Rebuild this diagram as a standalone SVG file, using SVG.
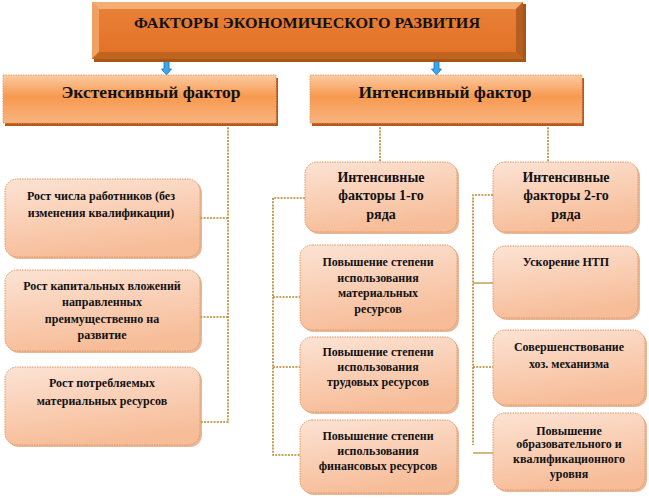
<svg xmlns="http://www.w3.org/2000/svg" width="649" height="498" viewBox="0 0 649 498" font-family="'Liberation Serif', 'DejaVu Serif', 'Times New Roman', serif">
<defs>
<linearGradient id="gMain" x1="0" y1="0" x2="0" y2="1">
<stop offset="0" stop-color="#FBCBA2"/>
<stop offset="0.45" stop-color="#F7994F"/>
<stop offset="1" stop-color="#F9B47F"/>
</linearGradient>
<linearGradient id="gBox" x1="0" y1="0" x2="0.3" y2="1">
<stop offset="0" stop-color="#FCE3D4"/>
<stop offset="1" stop-color="#F7BD99"/>
</linearGradient>
<linearGradient id="gTop" x1="0" y1="0" x2="0" y2="1">
<stop offset="0" stop-color="#E9823A"/>
<stop offset="1" stop-color="#E27024"/>
</linearGradient>
</defs>
<style>
text{font-family:'Liberation Serif','DejaVu Serif','Times New Roman',serif;font-weight:bold;fill:#111;text-anchor:middle}
.t{font-size:12px}
.m{font-size:14px}
.h{font-size:17px}
.box{fill:url(#gBox);stroke:#E39560;stroke-width:1;stroke-dasharray:1.5 1}
.sh{fill:#D98A55;opacity:0.6}
.main{fill:url(#gMain);stroke:#E8A070;stroke-width:1;stroke-dasharray:1.5 1}
.msh{fill:#B8581A}
.c{fill:none;stroke:#B8862B;stroke-width:1.6;stroke-dasharray:2 1.2}
.cs{fill:none;stroke:#B8862B;stroke-width:1.2}
.arr{fill:#39A8F0;stroke:#1E6FB0;stroke-width:0.8}
</style>

<g id="connectors">
<path class="arr" d="M164 60 h5 v9 h2.5 l-5 6 l-5 -6 h2.5 z"/>
<path class="arr" d="M434 60 h5 v9 h2.5 l-5 6 l-5 -6 h2.5 z"/>
<path class="c" d="M228 124 V422 H200"/>
<path class="c" d="M228 218 H200"/>
<path class="c" d="M228 317 H200"/>
<path class="c" d="M380 124 V162"/>
<path class="c" d="M548 124 V162"/>
<path class="c" d="M305 198 H273 V455 H300"/>
<path class="c" d="M273 297 H300"/>
<path class="c" d="M273 367 H300"/>
<path class="c" d="M493 195 H473 V445"/>
<path class="cs" d="M473 283 H493"/>
<path class="c" d="M473 367 H493"/>
<path class="cs" d="M473 453 H493"/>
</g>

<g id="title">
<rect x="94" y="4" width="432" height="58" fill="#A85518"/>
<rect x="92" y="2" width="431" height="57" fill="url(#gTop)"/>
<polygon points="92,2 523,2 516,9 99,9" fill="#F4AE74"/>
<polygon points="92,2 99,9 99,52 92,59" fill="#F0A060"/>
<polygon points="523,2 523,59 516,52 516,9" fill="#B45E20"/>
<polygon points="92,59 523,59 516,52 99,52" fill="#C0651F"/>
<text x="307" y="28" style="font-size:15px" textLength="346" lengthAdjust="spacingAndGlyphs">ФАКТОРЫ ЭКОНОМИЧЕСКОГО РАЗВИТИЯ</text>
</g>

<g id="extensive">
<rect class="msh" x="5" y="78" width="273" height="48"/>
<rect class="main" x="3" y="75" width="273" height="48"/>
<text class="h" x="151" y="98" textLength="179" lengthAdjust="spacingAndGlyphs">Экстенсивный фактор</text>
</g>

<g id="intensive">
<rect class="msh" x="312" y="78" width="272" height="48"/>
<rect class="main" x="310" y="75" width="272" height="48"/>
<text class="h" x="445" y="98" textLength="173" lengthAdjust="spacingAndGlyphs">Интенсивный фактор</text>
</g>

<g id="e1">
<rect class="sh" x="7" y="181" width="195" height="78" rx="12"/>
<rect class="box" x="5" y="179" width="195" height="78" rx="12"/>
<text class="t" x="101" y="200">Рост числа работников (без</text>
<text class="t" x="101" y="217">изменения квалификации)</text>
</g>

<g id="e2">
<rect class="sh" x="7" y="272" width="195" height="81" rx="12"/>
<rect class="box" x="5" y="270" width="195" height="81" rx="12"/>
<text class="t" x="102" y="290">Рост капитальных  вложений</text>
<text class="t" x="102" y="306">направленных</text>
<text class="t" x="102" y="323">преимущественно на</text>
<text class="t" x="102" y="339">развитие</text>
</g>

<g id="e3">
<rect class="sh" x="7" y="369" width="195" height="78" rx="12"/>
<rect class="box" x="5" y="367" width="195" height="78" rx="12"/>
<text class="t" x="102" y="387">Рост потребляемых</text>
<text class="t" x="102" y="405">материальных  ресурсов</text>
</g>

<g id="i1">
<rect class="sh" x="307" y="164" width="152" height="70" rx="12"/>
<rect class="box" x="305" y="162" width="152" height="70" rx="12"/>
<text class="m" x="381" y="182">Интенсивные</text>
<text class="m" x="381" y="200">факторы  1-го</text>
<text class="m" x="381" y="219">ряда</text>
</g>

<g id="m1">
<rect class="sh" x="302" y="247" width="157" height="85" rx="12"/>
<rect class="box" x="300" y="245" width="157" height="85" rx="12"/>
<text class="t" x="378" y="266">Повышение степени</text>
<text class="t" x="378" y="282">использования</text>
<text class="t" x="378" y="297">материальных</text>
<text class="t" x="378" y="313">ресурсов</text>
</g>

<g id="m2">
<rect class="sh" x="302" y="339" width="157" height="75" rx="12"/>
<rect class="box" x="300" y="337" width="157" height="75" rx="12"/>
<text class="t" x="378" y="356">Повышение степени</text>
<text class="t" x="378" y="371">использования</text>
<text class="t" x="378" y="386">трудовых  ресурсов</text>
</g>

<g id="m3">
<rect class="sh" x="302" y="422" width="157" height="73" rx="12"/>
<rect class="box" x="300" y="420" width="157" height="73" rx="12"/>
<text class="t" x="378" y="440">Повышение степени</text>
<text class="t" x="378" y="455">использования</text>
<text class="t" x="378" y="470">финансовых ресурсов</text>
</g>

<g id="i2">
<rect class="sh" x="495" y="164" width="145" height="70" rx="12"/>
<rect class="box" x="493" y="162" width="145" height="70" rx="12"/>
<text class="m" x="566" y="182">Интенсивные</text>
<text class="m" x="566" y="200">факторы  2-го</text>
<text class="m" x="566" y="219">ряда</text>
</g>

<g id="r1">
<rect class="sh" x="495" y="248" width="145" height="72" rx="12"/>
<rect class="box" x="493" y="246" width="145" height="72" rx="12"/>
<text class="t" x="566" y="266">Ускорение НТП</text>
</g>

<g id="r2">
<rect class="sh" x="495" y="332" width="152" height="75" rx="12"/>
<rect class="box" x="493" y="330" width="152" height="75" rx="12"/>
<text class="t" x="569" y="351">Совершенствование</text>
<text class="t" x="569" y="368">хоз. механизма</text>
</g>

<g id="r3">
<rect class="sh" x="495" y="415" width="152" height="77" rx="12"/>
<rect class="box" x="493" y="413" width="152" height="77" rx="12"/>
<text class="t" x="569" y="435">Повышение</text>
<text class="t" x="569" y="448">образовательного и</text>
<text class="t" x="569" y="463">квалификационного</text>
<text class="t" x="569" y="478">уровня</text>
</g>
</svg>
